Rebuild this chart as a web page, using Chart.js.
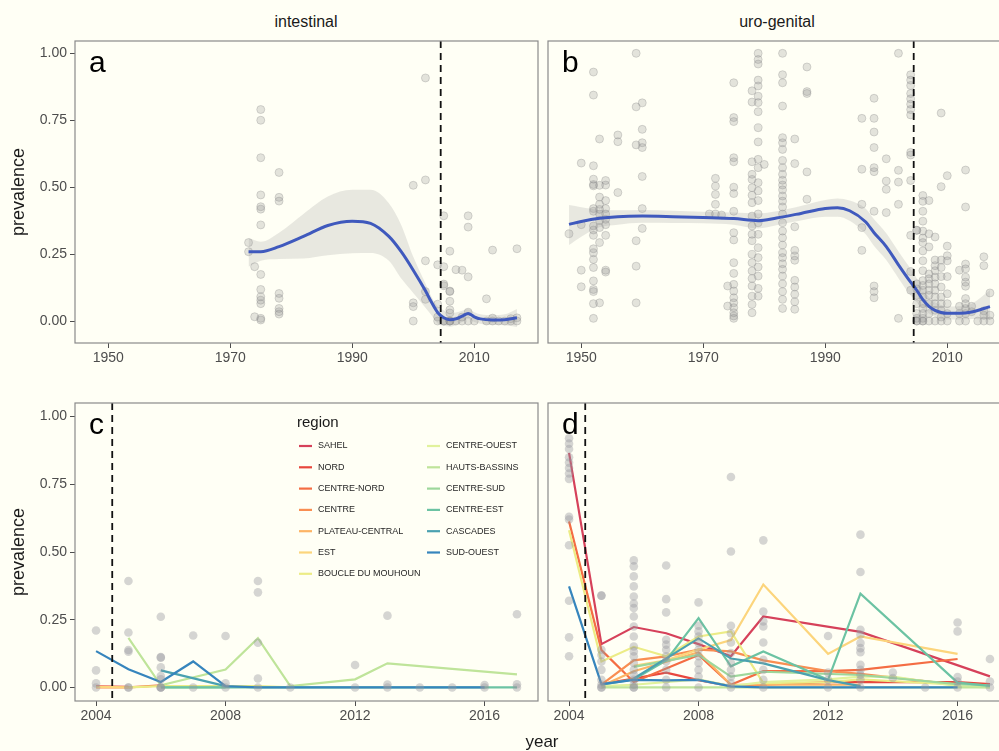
<!DOCTYPE html>
<html>
<head>
<meta charset="utf-8">
<title>Schistosomiasis prevalence, Burkina Faso</title>
<script src="https://cdn.jsdelivr.net/npm/chart.js@4.4.1/dist/chart.umd.min.js"></script>
<style>
  html, body { margin: 0; padding: 0; background: #fffff5; overflow: hidden; }
  #wrap { position: relative; width: 999px; height: 751px; overflow: hidden;
          font-family: "Liberation Sans", Arial, sans-serif; background: #fffff5; }
  canvas { position: absolute; }
  .strip { position: absolute; top: 13px; font-size: 16px; line-height: 18px; color: #1a1a1a;
           transform: translateX(-50%); white-space: nowrap; }
  #xtitle { position: absolute; top: 732px; left: 542px; font-size: 17px; line-height: 20px;
            color: #1a1a1a; transform: translateX(-50%); }
</style>
</head>
<body>
<div id="wrap">
  <div class="strip" style="left:306px">intestinal</div>
  <div class="strip" style="left:777px">uro-genital</div>
  <canvas id="pa" width="545" height="380" style="left:0;top:0"></canvas>
  <canvas id="pb" width="480" height="380" style="left:540px;top:0"></canvas>
  <canvas id="pc" width="545" height="371" style="left:0;top:380px"></canvas>
  <canvas id="pd" width="480" height="371" style="left:540px;top:380px"></canvas>
  <div id="xtitle">year</div>
</div>
<script>
// ---- regions (legend order) ----
const regions = ['SAHEL', 'NORD', 'CENTRE-NORD', 'CENTRE', 'PLATEAU-CENTRAL', 'EST',
  'BOUCLE DU MOUHOUN', 'CENTRE-OUEST', 'HAUTS-BASSINS', 'CENTRE-SUD', 'CENTRE-EST',
  'CASCADES', 'SUD-OUEST'];
const regionColours = ['#d6415a', '#e8473d', '#f46d43', '#f98e52', '#fdb465', '#fcd57c',
  '#ecec86', '#e1f29c', '#bfe49a', '#9dd79b', '#6cc3a3', '#4aa1b0', '#3685bd'];

// ---- survey prevalences: [year, [values]] ----
const intSurveys = [
  [1973, [0.293, 0.259]],
  [1974, [0.203, 0.016]],
  [1975, [0.79, 0.75, 0.61, 0.471, 0.427, 0.418, 0.359, 0.174, 0.118, 0.091, 0.078, 0.065, 0.01, 0.004]],
  [1978, [0.555, 0.462, 0.448, 0.103, 0.085, 0.047, 0.035, 0.026]],
  [2000, [0.507, 0.068, 0.054, 0.0]],
  [2002, [0.908, 0.527, 0.225, 0.11, 0.081]],
  [2004, [0.21, 0.063, 0.015, 0.0]],
  [2005, [0.393, 0.203, 0.138, 0.132, 0.0, 0.0]],
  [2006, [0.261, 0.112, 0.11, 0.074, 0.042, 0.03, 0.0, 0.0, 0.0]],
  [2007, [0.192, 0.0]],
  [2008, [0.19, 0.015, 0.0]],
  [2009, [0.393, 0.351, 0.165, 0.033, 0.0]],
  [2010, [0.0]],
  [2012, [0.083, 0.0]],
  [2013, [0.265, 0.011, 0.0]],
  [2014, [0.0]],
  [2015, [0.0]],
  [2016, [0.009, 0.0]],
  [2017, [0.27, 0.012, 0.0]]
];

const uroSurveys = [
  [1948, [0.326]],
  [1950, [0.59, 0.36, 0.19, 0.128]],
  [1952, [0.93, 0.844, 0.58, 0.53, 0.51, 0.505, 0.42, 0.41, 0.355, 0.34, 0.32, 0.27, 0.255, 0.23, 0.2, 0.15, 0.118, 0.11, 0.065, 0.01]],
  [1953, [0.68, 0.507, 0.463, 0.436, 0.417, 0.40, 0.376, 0.349, 0.293, 0.068]],
  [1954, [0.525, 0.508, 0.45, 0.42, 0.40, 0.38, 0.36, 0.32, 0.19, 0.183]],
  [1956, [0.695, 0.67, 0.48]],
  [1959, [1.0, 0.80, 0.658, 0.30, 0.205, 0.068]],
  [1960, [0.815, 0.716, 0.666, 0.648, 0.54, 0.42, 0.346]],
  [1971, [0.40]],
  [1972, [0.533, 0.504, 0.473, 0.436, 0.40]],
  [1973, [0.396]],
  [1974, [0.131, 0.056]],
  [1975, [0.89, 0.76, 0.745, 0.61, 0.595, 0.50, 0.476, 0.41, 0.33, 0.303, 0.218, 0.178, 0.137, 0.112, 0.087, 0.068, 0.05, 0.031, 0.019, 0.01]],
  [1978, [0.86, 0.818, 0.595, 0.548, 0.529, 0.498, 0.47, 0.442, 0.392, 0.355, 0.324, 0.30, 0.249, 0.218, 0.187, 0.159, 0.131, 0.093, 0.062, 0.031]],
  [1979, [1.0, 0.977, 0.96, 0.9, 0.878, 0.84, 0.816, 0.782, 0.722, 0.669, 0.604, 0.573, 0.517, 0.486, 0.45, 0.40, 0.367, 0.324, 0.274, 0.237, 0.202, 0.168, 0.122, 0.093]],
  [1980, [0.585]],
  [1983, [1.0, 0.92, 0.89, 0.803, 0.685, 0.666, 0.641, 0.60, 0.573, 0.548, 0.526, 0.508, 0.49, 0.467, 0.448, 0.426, 0.40, 0.367, 0.336, 0.311, 0.284, 0.255, 0.237, 0.214, 0.193, 0.168, 0.139, 0.11, 0.081, 0.047]],
  [1985, [0.68, 0.588, 0.352, 0.264, 0.243, 0.227, 0.152, 0.127, 0.10, 0.072, 0.044]],
  [1987, [0.949, 0.857, 0.85, 0.557, 0.455]],
  [1996, [0.757, 0.567, 0.436, 0.349, 0.264]],
  [1998, [0.832, 0.757, 0.706, 0.648, 0.573, 0.558, 0.41, 0.131, 0.11, 0.087]],
  [2000, [0.606, 0.523, 0.492, 0.405]],
  [2002, [1.0, 0.563, 0.519, 0.436, 0.01]],
  [2004, [0.92, 0.90, 0.88, 0.85, 0.83, 0.81, 0.79, 0.77, 0.63, 0.62, 0.525, 0.32, 0.185, 0.115]],
  [2005, [0.339, 0.339, 0.139, 0.12, 0.096, 0.065, 0.028, 0.01, 0.0, 0.0]],
  [2006, [0.469, 0.447, 0.41, 0.373, 0.336, 0.31, 0.293, 0.262, 0.225, 0.188, 0.151, 0.133, 0.115, 0.09, 0.065, 0.047, 0.028, 0.01, 0.0, 0.0]],
  [2007, [0.45, 0.326, 0.277, 0.176, 0.158, 0.139, 0.115, 0.096, 0.065, 0.028, 0.0]],
  [2008, [0.314, 0.228, 0.207, 0.188, 0.164, 0.139, 0.115, 0.09, 0.065, 0.04, 0.0]],
  [2009, [0.777, 0.502, 0.228, 0.2, 0.166, 0.127, 0.09, 0.065, 0.04, 0.015, 0.0]],
  [2010, [0.543, 0.28, 0.244, 0.225, 0.166, 0.102, 0.065, 0.028, 0.0]],
  [2012, [0.19, 0.055, 0.028, 0.0]],
  [2013, [0.564, 0.426, 0.213, 0.195, 0.164, 0.145, 0.13, 0.084, 0.065, 0.047, 0.028, 0.0]],
  [2014, [0.055, 0.035]],
  [2015, [0.0]],
  [2016, [0.24, 0.207, 0.038, 0.022, 0.0]],
  [2017, [0.105, 0.022, 0.0]]
];

// ---- smoothed trend with confidence band ----
const intFitYears = [1973, 1975, 1978, 1982, 1986, 1990, 1993, 1996, 1998, 2000, 2002, 2003, 2004, 2005, 2006, 2007, 2008, 2009, 2010, 2011, 2013, 2015, 2017];
const intFit   = [0.259, 0.259, 0.278, 0.316, 0.357, 0.373, 0.365, 0.316, 0.26, 0.19, 0.113, 0.07, 0.032, 0.012, 0.005, 0.008, 0.018, 0.028, 0.016, 0.008, 0.004, 0.005, 0.012];
const intUpper = [0.31, 0.296, 0.33, 0.40, 0.465, 0.49, 0.49, 0.44, 0.36, 0.24, 0.14, 0.09, 0.055, 0.04, 0.03, 0.032, 0.038, 0.045, 0.033, 0.025, 0.022, 0.025, 0.045];
const intLower = [0.203, 0.225, 0.232, 0.234, 0.246, 0.253, 0.254, 0.225, 0.16, 0.105, 0.05, 0.022, -0.01, -0.018, -0.021, -0.016, -0.004, 0.008, -0.004, -0.01, -0.015, -0.016, -0.022];

const uroFitYears = [1948, 1950, 1953, 1956, 1960, 1965, 1970, 1975, 1979, 1982, 1986, 1990, 1992, 1994, 1996.6, 1998, 2000, 2002, 2004, 2005, 2006, 2007, 2008, 2009, 2010, 2012, 2014, 2017];
const uroFit   = [0.361, 0.372, 0.384, 0.39, 0.392, 0.39, 0.387, 0.383, 0.375, 0.385, 0.402, 0.42, 0.423, 0.412, 0.371, 0.33, 0.278, 0.21, 0.145, 0.115, 0.08, 0.055, 0.04, 0.032, 0.029, 0.029, 0.034, 0.054];
const uroUpper = [0.433, 0.425, 0.415, 0.414, 0.415, 0.412, 0.408, 0.405, 0.402, 0.41, 0.43, 0.452, 0.458, 0.45, 0.42, 0.38, 0.328, 0.26, 0.195, 0.16, 0.12, 0.09, 0.07, 0.06, 0.054, 0.055, 0.065, 0.116];
const uroLower = [0.284, 0.315, 0.35, 0.36, 0.367, 0.366, 0.365, 0.36, 0.346, 0.358, 0.376, 0.39, 0.39, 0.375, 0.325, 0.28, 0.228, 0.16, 0.095, 0.07, 0.045, 0.028, 0.015, 0.008, 0.006, 0.006, 0.008, 0.004];

// ---- regional mean prevalence since 2004, one list per region (same order as regions) ----
const intRegionLines = [
  [],
  [[2004, 0.004], [2005, 0.002]],
  [[2005, 0.0], [2006, 0.008]],
  [[2004, 0.0], [2005, 0.0]],
  [],
  [[2004, 0.002], [2005, 0.0]],
  [[2005, 0.0], [2006, 0.005], [2008, 0.005], [2009, 0.005], [2010, 0.0]],
  [],
  [[2005, 0.183], [2006, 0.008], [2008, 0.066], [2009, 0.182], [2010, 0.005], [2012, 0.03], [2013, 0.089], [2017, 0.048]],
  [[2006, 0.0], [2008, 0.0]],
  [[2006, 0.0], [2007, 0.0], [2008, 0.0], [2009, 0.0], [2010, 0.0], [2012, 0.0], [2013, 0.0], [2014, 0.0], [2015, 0.0], [2016, 0.0], [2017, 0.0]],
  [[2006, 0.063], [2008, 0.005]],
  [[2004, 0.134], [2005, 0.067], [2006, 0.02], [2007, 0.096], [2008, 0.005], [2009, 0.0], [2010, 0.0], [2012, 0.0], [2013, 0.0], [2014, 0.0], [2015, 0.0], [2016, 0.0]]
];

const uroRegionLines = [
  [[2004, 0.866], [2005, 0.16], [2006, 0.223], [2007, 0.20], [2008, 0.16], [2009, 0.115], [2010, 0.262], [2013, 0.205], [2017, 0.041]],
  [[2005, 0.012], [2006, 0.033], [2007, 0.055], [2008, 0.027], [2009, 0.005], [2010, 0.01], [2012, 0.02], [2013, 0.02], [2016, 0.02], [2017, 0.012]],
  [[2004, 0.613], [2005, 0.138], [2006, 0.02], [2008, 0.12], [2009, 0.01], [2010, 0.06], [2012, 0.06], [2013, 0.065], [2016, 0.105]],
  [[2005, 0.01], [2006, 0.10], [2007, 0.115], [2008, 0.14], [2009, 0.133], [2010, 0.10], [2012, 0.06], [2013, 0.05], [2016, 0.01]],
  [[2005, 0.005], [2006, 0.06], [2008, 0.13], [2009, 0.01], [2010, 0.01], [2012, 0.01], [2013, 0.01]],
  [[2006, 0.08], [2007, 0.10], [2008, 0.14], [2009, 0.175], [2010, 0.38], [2012, 0.124], [2013, 0.188], [2016, 0.124]],
  [[2004, 0.58], [2005, 0.096], [2006, 0.15], [2007, 0.115], [2008, 0.188], [2009, 0.207], [2010, 0.016], [2012, 0.02], [2013, 0.03], [2016, 0.01]],
  [[2005, 0.005], [2006, 0.01], [2008, 0.03], [2009, 0.005], [2010, 0.02], [2012, 0.03], [2013, 0.04], [2014, 0.04], [2016, 0.005], [2017, 0.0]],
  [[2005, 0.0], [2006, 0.0], [2007, 0.0], [2008, 0.0], [2009, 0.0], [2010, 0.0], [2012, 0.0], [2013, 0.0], [2016, 0.0], [2017, 0.0]],
  [[2006, 0.076], [2008, 0.12], [2009, 0.04], [2010, 0.058], [2013, 0.046], [2016, 0.012], [2017, 0.008]],
  [[2005, 0.01], [2006, 0.03], [2007, 0.10], [2008, 0.256], [2009, 0.078], [2010, 0.133], [2012, 0.028], [2013, 0.346], [2016, 0.018], [2017, 0.006]],
  [[2006, 0.033], [2008, 0.181], [2009, 0.107], [2010, 0.089], [2012, 0.027], [2013, 0.005]],
  [[2004, 0.373], [2005, 0.012], [2006, 0.028], [2007, 0.026], [2008, 0.028], [2009, 0.004], [2010, 0.0], [2012, 0.0], [2013, 0.0], [2015, 0.0], [2016, 0.0]]
];

// ---- axes ----
const longYearTicks = [1950, 1970, 1990, 2010];
const shortYearTicks = [2004, 2008, 2012, 2016];
const prevalenceTicks = [0, 0.25, 0.5, 0.75, 1];
const longYearRange = [1944.55, 2020.45];
const shortYearRange = [2003.35, 2017.65];
const topPrevalenceRange = [-0.082, 1.046];
const bottomPrevalenceRange = [-0.05, 1.05];
const controlStart = 2004.5;   // start of the national control programme
const panelTags = ['a', 'b', 'c', 'd'];

const FONT = '"Liberation Sans", Arial, sans-serif';

function surveyPoints(surveys, fromYear) {
  const pts = [];
  surveys.forEach(([yr, vals]) => {
    if (yr >= fromYear) vals.forEach(v => pts.push({ x: yr, y: v }));
  });
  return pts;
}
function curve(xs, ys) { return xs.map((x, i) => ({ x, y: ys[i] })); }

// dashed programme-start line, panel frame and panel tag
const panelDecor = {
  id: 'panelDecor',
  afterDatasetsDraw(chart, args, o) {
    const { ctx, chartArea: a, scales: { x } } = chart;
    ctx.save();
    const px = x.getPixelForValue(controlStart);
    ctx.strokeStyle = '#111';
    ctx.lineWidth = 1.8;
    ctx.setLineDash([7, 5]);
    ctx.beginPath();
    ctx.moveTo(px, a.top);
    ctx.lineTo(px, a.bottom);
    ctx.stroke();
    ctx.setLineDash([]);
    ctx.strokeStyle = '#8a8a8a';
    ctx.lineWidth = 1.2;
    ctx.strokeRect(a.left, a.top, a.right - a.left, a.bottom - a.top);
    ctx.fillStyle = '#000';
    ctx.font = '30px ' + FONT;
    ctx.textBaseline = 'alphabetic';
    ctx.textAlign = 'left';
    ctx.fillText(o.tag, a.left + 14, a.top + 31);
    ctx.restore();
  }
};

// two-column region key inside panel c
const regionKey = {
  id: 'regionKey',
  afterDraw(chart, args, o) {
    if (!o.show) return;
    const { ctx, chartArea: a } = chart;
    ctx.save();
    ctx.textBaseline = 'middle';
    ctx.textAlign = 'left';
    ctx.fillStyle = '#1a1a1a';
    ctx.font = '15px ' + FONT;
    ctx.fillText('region', a.left + 222, a.top + 20);
    ctx.font = '9px ' + FONT;
    const perCol = Math.ceil(regions.length / 2);
    regions.forEach((name, i) => {
      const col = Math.floor(i / perCol), row = i % perCol;
      const x0 = a.left + 224 + col * 128;
      const y0 = a.top + 43 + row * 21.3;
      ctx.strokeStyle = regionColours[i];
      ctx.lineWidth = 2.2;
      ctx.beginPath();
      ctx.moveTo(x0, y0);
      ctx.lineTo(x0 + 13, y0);
      ctx.stroke();
      ctx.fillStyle = '#262626';
      ctx.fillText(name, x0 + 19, y0);
    });
    ctx.restore();
  }
};

function trendDatasets(surveys, years, fit, lower, upper) {
  return [
    { data: curve(years, fit), showLine: true, borderColor: '#3f59bd', borderWidth: 3,
      pointRadius: 0, cubicInterpolationMode: 'monotone', fill: false, order: 0 },
    { data: curve(years, upper), showLine: true, borderWidth: 0, borderColor: 'rgba(0,0,0,0)',
      pointRadius: 0, cubicInterpolationMode: 'monotone',
      backgroundColor: 'rgba(150,150,150,0.22)', fill: '+1', order: 1 },
    { data: curve(years, lower), showLine: true, borderWidth: 0, borderColor: 'rgba(0,0,0,0)',
      pointRadius: 0, cubicInterpolationMode: 'monotone', fill: false, order: 1 },
    { data: surveyPoints(surveys, -Infinity), showLine: false, pointRadius: 4,
      backgroundColor: 'rgba(140,140,140,0.24)', borderColor: 'rgba(140,140,140,0.32)',
      borderWidth: 1, order: 2 }
  ];
}

function regionDatasets(surveys, lines) {
  const sets = [
    { data: surveyPoints(surveys, 2004), showLine: false, pointRadius: 4.3,
      backgroundColor: 'rgba(150,150,158,0.40)', borderWidth: 0, order: 0 }
  ];
  lines.forEach((pts, i) => {
    sets.push({ data: pts.map(([x, y]) => ({ x, y })), showLine: true,
      borderColor: regionColours[i], borderWidth: 2.2, pointRadius: 0,
      fill: false, order: 100 - i });
  });
  return sets;
}

function makePanel(id, cfg) {
  const axisText = { family: FONT, size: 14 };
  new Chart(document.getElementById(id), {
    type: 'scatter',
    data: { datasets: cfg.datasets },
    plugins: [panelDecor, regionKey],
    options: {
      responsive: false,
      animation: false,
      events: [],
      layout: { padding: cfg.padding },
      plugins: {
        legend: { display: false },
        tooltip: { enabled: false },
        panelDecor: { tag: cfg.tag },
        regionKey: { show: !!cfg.key }
      },
      scales: {
        x: {
          type: 'linear', min: cfg.xRange[0], max: cfg.xRange[1],
          afterBuildTicks: s => { s.ticks = cfg.xTicks.map(v => ({ value: v })); },
          afterFit: s => { s.height = cfg.xAxisHeight; },
          ticks: { autoSkip: false, maxRotation: 0, font: axisText, color: '#4d4d4d',
                   padding: 2, callback: v => String(v) },
          grid: { drawOnChartArea: false, drawTicks: true, tickLength: 5,
                  tickColor: '#4d4d4d', tickWidth: 1 },
          border: { display: false }
        },
        y: {
          type: 'linear', min: cfg.yRange[0], max: cfg.yRange[1], display: cfg.showY,
          afterBuildTicks: s => { s.ticks = prevalenceTicks.map(v => ({ value: v })); },
          afterFit: s => { s.width = cfg.showY ? 75 : 0; },
          ticks: { autoSkip: false, font: axisText, color: '#4d4d4d', padding: 3,
                   callback: v => Number(v).toFixed(2) },
          grid: { drawOnChartArea: false, drawTicks: true, tickLength: 5,
                  tickColor: '#4d4d4d', tickWidth: 1 },
          border: { display: false },
          title: { display: true, text: 'prevalence', color: '#1a1a1a',
                   font: { family: FONT, size: 18 }, padding: { top: 8, bottom: 0 } }
        }
      }
    }
  });
}

makePanel('pa', {
  tag: panelTags[0], showY: true, xRange: longYearRange, xTicks: longYearTicks,
  yRange: topPrevalenceRange, xAxisHeight: 37,
  padding: { top: 41, left: 0, right: 7, bottom: 0 },
  datasets: trendDatasets(intSurveys, intFitYears, intFit, intLower, intUpper)
});
makePanel('pb', {
  tag: panelTags[1], showY: false, xRange: longYearRange, xTicks: longYearTicks,
  yRange: topPrevalenceRange, xAxisHeight: 37,
  padding: { top: 41, left: 8, right: 9, bottom: 0 },
  datasets: trendDatasets(uroSurveys, uroFitYears, uroFit, uroLower, uroUpper)
});
makePanel('pc', {
  tag: panelTags[2], showY: true, xRange: shortYearRange, xTicks: shortYearTicks,
  yRange: bottomPrevalenceRange, xAxisHeight: 50, key: true,
  padding: { top: 23, left: 0, right: 7, bottom: 0 },
  datasets: regionDatasets(intSurveys, intRegionLines)
});
makePanel('pd', {
  tag: panelTags[3], showY: false, xRange: shortYearRange, xTicks: shortYearTicks,
  yRange: bottomPrevalenceRange, xAxisHeight: 50,
  padding: { top: 23, left: 8, right: 9, bottom: 0 },
  datasets: regionDatasets(uroSurveys, uroRegionLines)
});
</script>
</body>
</html>
